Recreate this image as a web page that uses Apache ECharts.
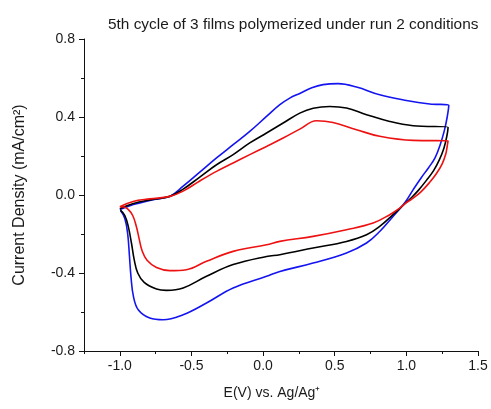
<!DOCTYPE html>
<html>
<head>
<meta charset="utf-8">
<script src="https://cdn.jsdelivr.net/npm/echarts@6/dist/echarts.min.js"></script>
<style>html,body{margin:0;padding:0;background:#fff}#c{width:491px;height:409px}</style>
</head>
<body>
<div id="c"></div>
<script>
// Film 1 (blue)
const blueE = [-1.00,-0.93,-0.86,-0.75,-0.651,-0.558,-0.442,-0.325,-0.209,-0.093,0.024,0.117,0.186,0.256,0.340,0.419,0.523,0.652,0.814,1.000,1.163,1.296,
  1.285,1.265,1.235,1.20,1.155,1.105,1.05,0.989,0.907,0.814,0.722,0.582,0.349,0.117,0.024,-0.209,-0.395,-0.558,-0.698,-0.791,-0.870,-0.905,-0.922,-0.933,-0.945,-0.965,-0.995];
const blueJ = [-0.075,-0.055,-0.041,-0.022,-0.007,0.045,0.117,0.190,0.258,0.326,0.403,0.463,0.497,0.521,0.550,0.566,0.571,0.554,0.514,0.485,0.467,0.460,
  0.40,0.33,0.255,0.19,0.14,0.09,0.03,-0.04,-0.110,-0.187,-0.246,-0.297,-0.349,-0.392,-0.417,-0.477,-0.554,-0.614,-0.640,-0.631,-0.590,-0.520,-0.420,-0.310,-0.200,-0.120,-0.080];
// Film 2 (black)
const blackE = [-1.00,-0.91,-0.79,-0.651,-0.558,-0.442,-0.325,-0.209,-0.093,0.024,0.140,0.256,0.350,0.465,0.582,0.722,0.884,1.047,1.291,
  1.282,1.262,1.23,1.19,1.14,1.085,1.04,0.989,0.907,0.814,0.722,0.582,0.349,0.117,0.024,-0.209,-0.395,-0.558,-0.674,-0.744,-0.830,-0.875,-0.900,-0.918,-0.940,-0.965,-0.996];
const blackJ = [-0.070,-0.045,-0.025,-0.007,0.030,0.092,0.155,0.207,0.267,0.318,0.369,0.420,0.445,0.454,0.446,0.412,0.377,0.355,0.347,
  0.30,0.24,0.18,0.125,0.075,0.025,-0.01,-0.045,-0.101,-0.161,-0.204,-0.238,-0.272,-0.306,-0.315,-0.357,-0.417,-0.477,-0.489,-0.482,-0.448,-0.400,-0.330,-0.250,-0.165,-0.105,-0.078];
// Film 3 (red)
const redE = [-1.00,-0.907,-0.791,-0.651,-0.558,-0.442,-0.325,-0.209,-0.093,0.024,0.140,0.256,0.373,0.488,0.652,0.814,1.047,1.291,
  1.285,1.275,1.25,1.21,1.163,1.10,1.04,0.989,0.954,0.884,0.768,0.582,0.349,0.117,0.024,-0.209,-0.395,-0.535,-0.651,-0.744,-0.810,-0.845,-0.865,-0.885,-0.910,-0.940,-0.970,-1.00];
const redJ = [-0.060,-0.033,-0.020,-0.007,0.020,0.072,0.121,0.164,0.207,0.249,0.292,0.338,0.381,0.372,0.335,0.301,0.280,0.278,
  0.25,0.21,0.16,0.11,0.065,0.015,-0.02,-0.045,-0.067,-0.101,-0.144,-0.178,-0.212,-0.238,-0.255,-0.289,-0.340,-0.383,-0.388,-0.372,-0.335,-0.285,-0.225,-0.160,-0.105,-0.075,-0.062,-0.060];

const xMajorTicks = [-1.0, -0.5, 0.0, 0.5, 1.0, 1.5];
const yTicks = [-0.8, -0.4, 0.0, 0.4, 0.8];

const zip = (a, b) => a.map((v, i) => [v, b[i]]);
const FONT = 'Liberation Sans, Arial, sans-serif';
const TXT = '#1a1a1a';

const chart = echarts.init(document.getElementById('c'), null, {renderer: 'canvas'});
chart.setOption({
  animation: false,
  backgroundColor: '#fff',
  title: {
    text: '5th cycle of 3 films polymerized under run 2 conditions',
    left: 103, top: 12,
    textStyle: {fontFamily: FONT, fontSize: 15.4, fontWeight: 'normal', color: TXT}
  },
  grid: [
    {left: 84, right: 13, top: 39, bottom: 58},
    {left: 119.8, right: 13, top: 39, bottom: 58}
  ],
  xAxis: [
    {
      type: 'value', gridIndex: 0, min: -1.25, max: 1.5, interval: 0.25, position: 'bottom',
      axisLine: {show: true, onZero: false, lineStyle: {color: '#111', width: 1}},
      axisTick: {show: true, inside: false, length: 3, lineStyle: {color: '#111'}},
      axisLabel: {show: false},
      splitLine: {show: false},
      name: 'E(V) vs. Ag/Ag\u207A', nameLocation: 'middle', nameGap: 35,
      nameTextStyle: {fontFamily: FONT, fontSize: 14, color: TXT, padding: [0, 18, 0, 0]}
    },
    {
      type: 'value', gridIndex: 1, min: xMajorTicks[0], max: xMajorTicks[xMajorTicks.length - 1], interval: 0.5, position: 'bottom',
      axisLine: {show: false, onZero: false},
      axisTick: {show: true, inside: false, length: 5, lineStyle: {color: '#111'}},
      axisLabel: {fontFamily: FONT, fontSize: 14, color: TXT, margin: 8, formatter: v => v.toFixed(1)},
      splitLine: {show: false}
    }
  ],
  yAxis: [
    {
      type: 'value', gridIndex: 0, min: yTicks[0], max: yTicks[yTicks.length - 1], interval: 0.4, position: 'left',
      axisLine: {show: true, onZero: false, lineStyle: {color: '#111', width: 1}},
      axisTick: {show: true, inside: false, length: 5, lineStyle: {color: '#111'}},
      minorTick: {show: true, splitNumber: 2, length: 3, lineStyle: {color: '#111'}},
      axisLabel: {fontFamily: FONT, fontSize: 14, color: TXT, margin: 9, formatter: v => v.toFixed(1)},
      splitLine: {show: false},
      name: 'Current Density (mA/cm\u00B2)', nameLocation: 'middle', nameGap: 56, nameRotate: 90,
      nameTextStyle: {fontFamily: FONT, fontSize: 16, color: TXT}
    },
    {
      type: 'value', gridIndex: 1, min: -0.8, max: 0.8, show: false, axisLine: {onZero: false}
    }
  ],
  series: [
    {type: 'line', xAxisIndex: 0, yAxisIndex: 0, data: zip(blueE, blueJ), showSymbol: false, smooth: 0.4,
      lineStyle: {color: '#1414f0', width: 1.6}},
    {type: 'line', xAxisIndex: 0, yAxisIndex: 0, data: zip(blackE, blackJ), showSymbol: false, smooth: 0.4,
      lineStyle: {color: '#000000', width: 1.6}},
    {type: 'line', xAxisIndex: 0, yAxisIndex: 0, data: zip(redE, redJ), showSymbol: false, smooth: 0.4,
      lineStyle: {color: '#ee1111', width: 1.6}}
  ]
});
</script>
</body>
</html>
